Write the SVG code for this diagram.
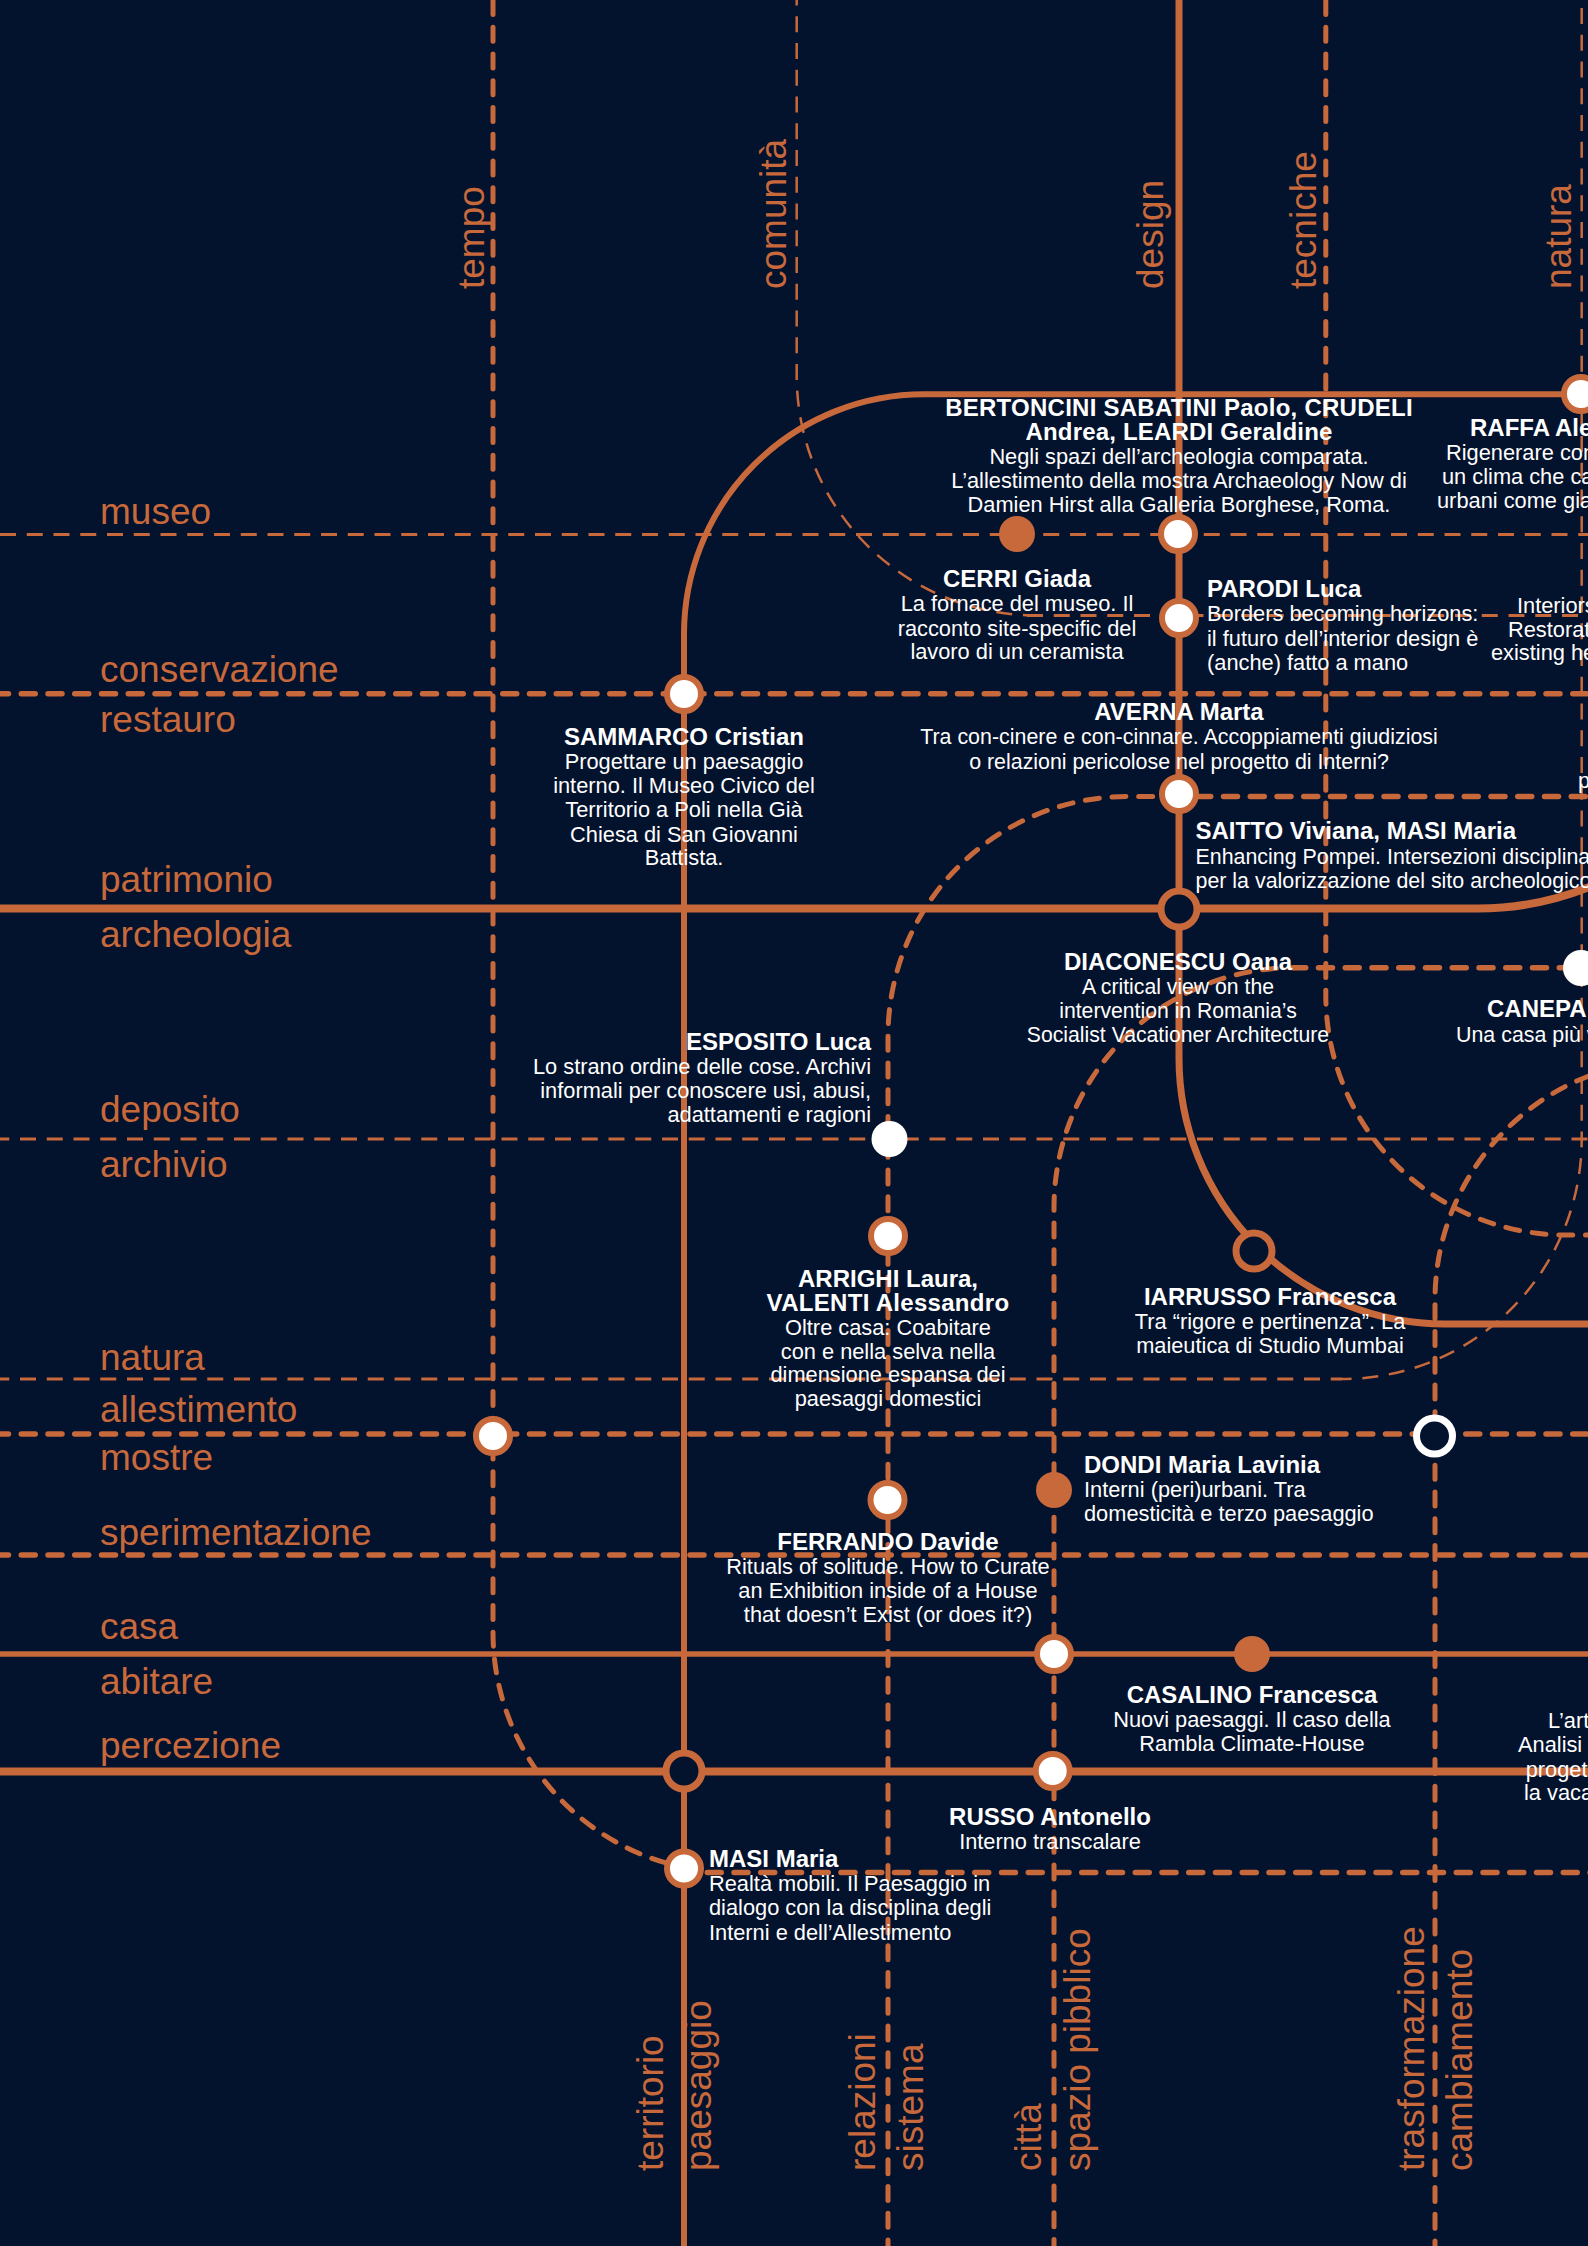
<svg xmlns="http://www.w3.org/2000/svg" width="1588" height="2246" viewBox="0 0 1588 2246">
<style>
text{font-family:"Liberation Sans",Arial,sans-serif}
.l{font-size:37px;fill:#c8693c}
.n{font-size:24px;font-weight:700;fill:#fff}
.b{font-size:21.8px;fill:#fff}
.b2{font-size:21.2px}
.b3{font-size:21.4px}
.c{text-anchor:middle}
.r{text-anchor:end}
.s{fill:none;stroke:#c8693c}
.d{fill:none;stroke:#c8693c;stroke-dasharray:14 12.75;stroke-linecap:round}
.t{fill:none;stroke:#c8693c;stroke-dasharray:16 10.75}
.w{fill:#fff;stroke:#c8693c;stroke-width:6}
.k{fill:#03122d;stroke:#c8693c;stroke-width:7}
.f{fill:#c8693c}
.p{fill:#fff}
</style>
<rect width="1588" height="2246" fill="#03122d"/>
<g id="connectors">
<path class="t" stroke-width="3" d="M0,534.4H1600"/>
<path class="d" stroke-width="5.5" d="M-5.5,693.7H1600"/>
<path class="t" stroke-width="3" d="M-6.75,1139H1600"/>
<path class="t" stroke-width="3" d="M-6.75,1379H1342"/>
<path class="d" stroke-width="5.5" d="M-5.5,1434H1600"/>
<path class="d" stroke-width="5.5" d="M-5.5,1555H1600"/>
<path class="s" stroke-width="5.5" d="M-5,1654H1600"/>
<path class="s" stroke-width="8" d="M-5,1771.5H1600"/>
<path class="s" stroke-width="8" d="M-5,908.5H1478A300 300 0 0 0 1600,882.5"/>
<path class="d" stroke-width="5.5" d="M707.25,1872.5H1600"/>
<path class="t" stroke-width="3" d="M1027,615.5H1600"/>
<path class="d" stroke-width="5.5" d="M1170,796.5H1600"/>
<path class="d" stroke-width="5.5" d="M1600,967.7H1294"/>
<path class="d" stroke-width="5" d="M493,0.5V1632.5A240 240 0 0 0 700,1870.2"/>
<path class="t" stroke-width="2.5" d="M796.7,-10.5V375.5A240 240 0 0 0 1030,615.4"/>
<path class="s" stroke-width="7" d="M1179,-5V1058A266 266 0 0 0 1445,1324H1600"/>
<path class="d" stroke-width="5" d="M1325.8,0.5V995A240 240 0 0 0 1566,1235H1600"/>
<path class="t" stroke-width="2.5" d="M1581.7,-18.8V1139A239.7 240 0 0 1 1342,1379"/>
<path class="s" stroke-width="6" d="M684,2253V634A240 240 0 0 1 924,394.3H1600"/>
<path class="d" stroke-width="5" d="M888,2254V1036.5A240 240 0 0 1 1128,796.5H1178"/>
<path class="d" stroke-width="5" d="M1054,2253.5V1207.7A240 240 0 0 1 1294,967.7"/>
<path class="d" stroke-width="5" d="M1435,2255V1300A240 240 0 0 1 1675,1060"/>
</g>
<g id="labels-horizontal">
<text class="l" x="100" y="524">museo</text>
<text class="l" x="100" y="682">conservazione</text>
<text class="l" x="100" y="732">restauro</text>
<text class="l" x="100" y="892">patrimonio</text>
<text class="l" x="100" y="947">archeologia</text>
<text class="l" x="100" y="1122">deposito</text>
<text class="l" x="100" y="1177">archivio</text>
<text class="l" x="100" y="1370">natura</text>
<text class="l" x="100" y="1422">allestimento</text>
<text class="l" x="100" y="1470">mostre</text>
<text class="l" x="100" y="1545">sperimentazione</text>
<text class="l" x="100" y="1639">casa</text>
<text class="l" x="100" y="1694">abitare</text>
<text class="l" x="100" y="1758">percezione</text>
</g>
<g id="labels-vertical">
<text class="l" transform="translate(484 289) rotate(-90)">tempo</text>
<text class="l" transform="translate(785.5 289) rotate(-90)">comunità</text>
<text class="l" transform="translate(1163 289) rotate(-90)">design</text>
<text class="l" transform="translate(1315.5 289) rotate(-90)">tecniche</text>
<text class="l" transform="translate(1571 289) rotate(-90)">natura</text>
<text class="l" transform="translate(663 2171) rotate(-90)">territorio</text>
<text class="l" transform="translate(711 2171) rotate(-90)">paesaggio</text>
<text class="l" transform="translate(875 2171) rotate(-90)">relazioni</text>
<text class="l" transform="translate(923 2171) rotate(-90)">sistema</text>
<text class="l" transform="translate(1041 2171) rotate(-90)">città</text>
<text class="l" transform="translate(1090 2171) rotate(-90)">spazio pibblico</text>
<text class="l" transform="translate(1423.6 2171) rotate(-90)">trasformazione</text>
<text class="l" transform="translate(1472 2171) rotate(-90)">cambiamento</text>
</g>
<g id="node-bertoncini"><circle class="w" cx="1178" cy="534" r="17"/>
<text class="n c" x="1179" y="416" letter-spacing=".25">BERTONCINI SABATINI Paolo, CRUDELI</text>
<text class="n c" x="1179" y="440" letter-spacing=".18">Andrea, LEARDI Geraldine</text>
<text class="b c" x="1179" y="464">Negli spazi dell’archeologia comparata.</text>
<text class="b c" x="1179" y="488">L’allestimento della mostra Archaeology Now di</text>
<text class="b c" x="1179" y="512">Damien Hirst alla Galleria Borghese, Roma.</text></g>
<g id="node-raffa"><circle class="w" cx="1581" cy="394" r="17"/>
<text class="n" x="1470" y="436">RAFFA Ale</text>
<text class="b" x="1446" y="460">Rigenerare con</text>
<text class="b" x="1442" y="484">un clima che ca</text>
<text class="b" x="1437" y="508">urbani come gia</text></g>
<g id="node-cerri"><circle class="f" cx="1017" cy="534" r="18"/>
<text class="n c" x="1017" y="586.5">CERRI Giada</text>
<text class="b c" x="1017" y="611">La fornace del museo. Il</text>
<text class="b c" x="1017" y="635.5">racconto site-specific del</text>
<text class="b c" x="1017" y="659">lavoro di un ceramista</text></g>
<g id="node-parodi"><circle class="w" cx="1179" cy="618" r="17"/>
<text class="n" x="1207" y="597">PARODI Luca</text>
<text class="b" x="1207" y="621">Borders becoming horizons:</text>
<text class="b" x="1207" y="645.5">il futuro dell’interior design è</text>
<text class="b" x="1207" y="669.5">(anche) fatto a mano</text></g>
<g id="node-interiors">
<text class="b" x="1517" y="613">Interiors</text>
<text class="b" x="1508" y="637">Restorat</text>
<text class="b" x="1491" y="660">existing he</text>
<text class="b" x="1578" y="788">p</text></g>
<g id="node-sammarco"><circle class="w" cx="684" cy="694" r="17"/>
<text class="n c" x="684" y="744.6">SAMMARCO Cristian</text>
<text class="b c" x="684" y="769">Progettare un paesaggio</text>
<text class="b c" x="684" y="793">interno. Il Museo Civico del</text>
<text class="b c" x="684" y="817">Territorio a Poli nella Già</text>
<text class="b c" x="684" y="841.5">Chiesa di San Giovanni</text>
<text class="b c" x="684" y="865">Battista.</text></g>
<g id="node-averna"><circle class="w" cx="1179" cy="794" r="17"/>
<text class="n c" x="1179" y="720">AVERNA Marta</text>
<text class="b b3 c" x="1179" y="744">Tra con-cinere e con-cinnare. Accoppiamenti giudiziosi</text>
<text class="b b3 c" x="1179" y="769">o relazioni pericolose nel progetto di Interni?</text></g>
<g id="node-saitto"><circle class="k" cx="1179" cy="909" r="18"/>
<text class="n" x="1195.5" y="839">SAITTO Viviana, MASI Maria</text>
<text class="b b3" x="1195.5" y="863.6">Enhancing Pompei. Intersezioni disciplina</text>
<text class="b b3" x="1195.5" y="888">per la valorizzazione del sito archeologico</text></g>
<g id="node-diaconescu">
<text class="n c" x="1178" y="969.6">DIACONESCU Oana</text>
<text class="b b2 c" x="1178" y="993.6">A critical view on the</text>
<text class="b b2 c" x="1178" y="1018">intervention in Romania’s</text>
<text class="b b2 c" x="1178" y="1042">Socialist Vacationer Architecture</text></g>
<g id="node-canepa"><circle class="p" cx="1581" cy="968" r="18"/>
<text class="n" x="1487" y="1017">CANEPA</text>
<text class="b b3" x="1456" y="1042">Una casa più v</text></g>
<g id="node-esposito"><circle class="p" cx="889.5" cy="1139" r="18"/>
<text class="n r" x="871" y="1050">ESPOSITO Luca</text>
<text class="b r" x="871" y="1074">Lo strano ordine delle cose. Archivi</text>
<text class="b r" x="871" y="1098">informali per conoscere usi, abusi,</text>
<text class="b r" x="871" y="1122">adattamenti e ragioni</text></g>
<g id="node-arrighi"><circle class="w" cx="888" cy="1236" r="17"/>
<text class="n c" x="888" y="1287">ARRIGHI Laura,</text>
<text class="n c" x="888" y="1311" letter-spacing=".3">VALENTI Alessandro</text>
<text class="b c" x="888" y="1335">Oltre casa: Coabitare</text>
<text class="b c" x="888" y="1359">con e nella selva nella</text>
<text class="b c" x="888" y="1382">dimensione espansa dei</text>
<text class="b c" x="888" y="1406">paesaggi domestici</text></g>
<g id="node-iarrusso"><circle class="k" cx="1254" cy="1251" r="18"/>
<text class="n c" x="1270" y="1304.6">IARRUSSO Francesca</text>
<text class="b c" x="1270" y="1328.6">Tra “rigore e pertinenza”. La</text>
<text class="b c" x="1270" y="1353">maieutica di Studio Mumbai</text></g>
<g id="node-tempo"><circle class="w" cx="493" cy="1436" r="17"/></g>
<g id="node-trasformazione"><circle fill="#03122d" stroke="#fff" stroke-width="7" cx="1434.5" cy="1436" r="18"/></g>
<g id="node-dondi"><circle class="f" cx="1054" cy="1490" r="18"/>
<text class="n" x="1084" y="1472.5">DONDI Maria Lavinia</text>
<text class="b" x="1084" y="1497">Interni (peri)urbani. Tra</text>
<text class="b" x="1084" y="1521">domesticità e terzo paesaggio</text></g>
<g id="node-ferrando"><circle class="w" cx="887.5" cy="1500" r="17"/>
<text class="n c" x="888" y="1550">FERRANDO Davide</text>
<text class="b c" x="888" y="1574">Rituals of solitude. How to Curate</text>
<text class="b c" x="888" y="1598">an Exhibition inside of a House</text>
<text class="b c" x="888" y="1622">that doesn’t Exist (or does it?)</text></g>
<g id="node-casa"><circle class="w" cx="1054" cy="1654" r="17"/></g>
<g id="node-casalino"><circle class="f" cx="1252" cy="1654" r="18"/>
<text class="n c" x="1252" y="1702.7">CASALINO Francesca</text>
<text class="b c" x="1252" y="1726.7">Nuovi paesaggi. Il caso della</text>
<text class="b c" x="1252" y="1750.7">Rambla Climate-House</text></g>
<g id="node-percezione"><circle class="k" cx="684" cy="1771" r="18"/></g>
<g id="node-russo"><circle class="w" cx="1052.7" cy="1771" r="17"/>
<text class="n c" x="1050" y="1824.5">RUSSO Antonello</text>
<text class="b c" x="1050" y="1848.7">Interno transcalare</text></g>
<g id="node-masi"><circle class="w" cx="684" cy="1868.5" r="17"/>
<text class="n" x="709" y="1866.6">MASI Maria</text>
<text class="b" x="709" y="1891">Realtà mobili. Il Paesaggio in</text>
<text class="b" x="709" y="1915">dialogo con la disciplina degli</text>
<text class="b" x="709" y="1940">Interni e dell’Allestimento</text></g>
<g id="node-art">
<text class="b" x="1548" y="1727.7">L’art</text>
<text class="b" x="1518" y="1751.7">Analisi</text>
<text class="b" x="1525.7" y="1776.7">proget</text>
<text class="b" x="1524" y="1800">la vaca</text></g>
</svg>
